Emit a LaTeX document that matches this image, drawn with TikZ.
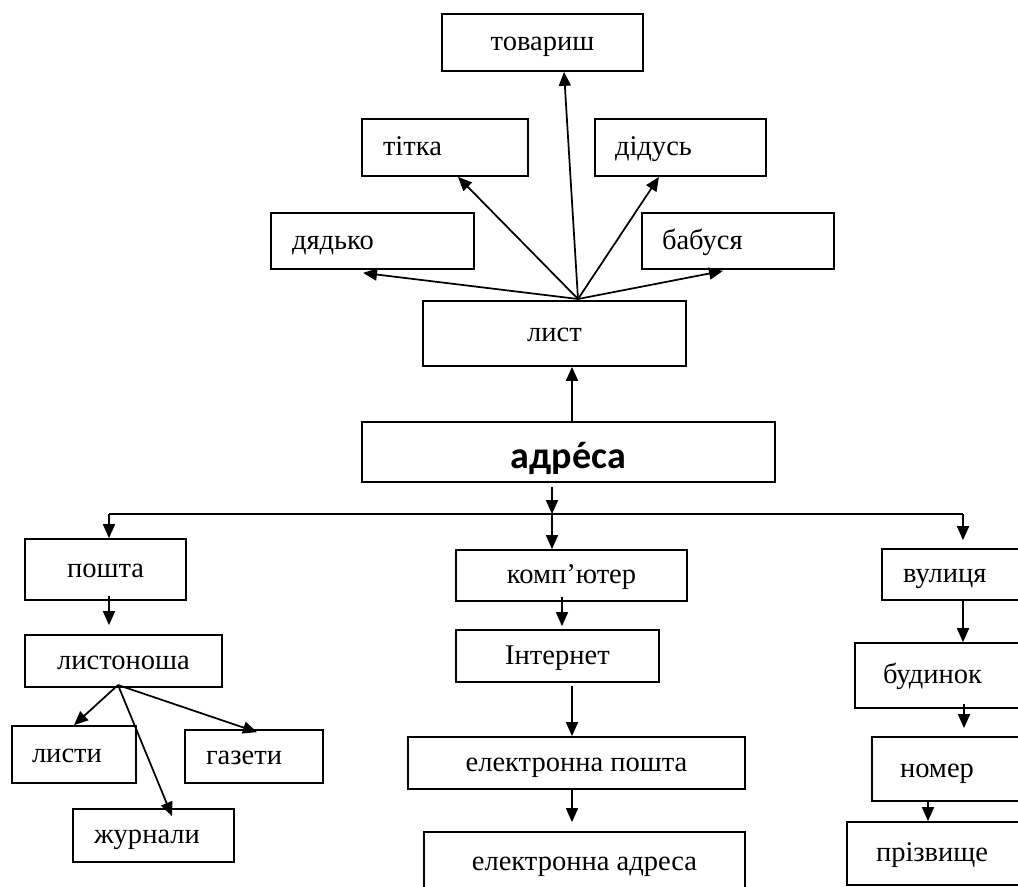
\documentclass[tikz,border=0pt]{standalone}
\usepackage{fontspec}
\setmainfont{Liberation Serif}
\newfontfamily\carl{Carlito}
\usetikzlibrary{arrows.meta}
\newlength\pxu
\setlength\pxu{0.75pt}
\newcommand\acuteon[1]{{\ooalign{#1\cr\hidewidth´\hidewidth\cr}}}
\tikzset{
  box/.style 2 args={draw, line width=1.3pt, rectangle, inner sep=0pt,
    minimum width=#1*\pxu, minimum height=#2*\pxu,
    font=\fontsize{21.4pt}{26pt}\selectfont, text height=12pt, text depth=0pt},
  lbox/.style n args={3}{box={#1}{#2}, text width=(#1-2*#3)*\pxu,
    inner xsep=#3*\pxu, align=left},
  arr/.style={line width=1.3pt, -{Triangle[length=10.5pt, width=9pt]}},
  plain/.style={line width=1.3pt}
}
\begin{document}
\begin{tikzpicture}[x=0.75pt,y=-0.75pt]
\useasboundingbox (0,0) rectangle (1018,886);
\fill[white] (0,0) rectangle (1018,886);
\clip (0,0) rectangle (1018,886);

% upper part
\node[box={201}{57}] (tov) at (542.5,42.5) {товариш};
\node[lbox={166}{57}{21}] (titka) at (445,147.5) {тітка};
\node[lbox={171}{57}{20}] (didus) at (680.5,147.5) {дідусь};
\node[lbox={203}{56}{21}] (dyadko) at (372.5,241) {дядько};
\node[lbox={192}{56}{20}] (babusya) at (738,241) {бабуся};
\node[box={263}{65}] (lyst) at (554.5,333.5) {лист};
\node[box={413}{60}, font=\carl\bfseries\fontsize{28.5pt}{32pt}\selectfont,
      text height=25pt] (adresa) at (568.5,452) {адр\acuteon{е}са};

% left branch
\node[box={161}{61}] (posta) at (105.5,569.5) {пошта};
\node[box={197}{52}] (listo) at (123.5,661) {листоноша};
\node[lbox={124}{57}{20}] (lysty) at (74,754.5) {листи};
\node[lbox={138}{53}{21}] (gazety) at (254,756.5) {газети};
\node[lbox={161}{53}{21}] (zhurn) at (153.5,835.5) {журнали};

% middle branch
\node[box={231}{51}] (komp) at (571.5,575.5) {комп’ютер};
\node[box={203}{52}] (internet) at (557.5,656) {Інтернет};
\node[box={337}{52}] (epost) at (576.5,763) {електронна пошта};
\node[box={321}{60}] (eaddr) at (584.5,862) {електронна адреса};

% right branch
\node[lbox={148}{51}{21}] (vul) at (956,574.5) {вулиця};
\node[lbox={175}{65}{28}] (bud) at (942.5,675.5) {будинок};
\node[lbox={158}{64}{28}] (nomer) at (951,769) {номер};
\node[lbox={183}{63}{29}] (prizv) at (938.5,853.5) {прізвище};

% coordinates
\coordinate (fan) at (578,299);
\coordinate (lf) at (118,685);
\coordinate (br) at (552,514);
\coordinate (bl) at (109,514);
\coordinate (bri) at (963,514);

% fan from лист
\draw[arr] (fan) -- ([xshift=21.5*\pxu]tov.south);
\draw[arr] (fan) -- ([xshift=13*\pxu]titka.south);
\draw[arr] (fan) -- ([xshift=-21.5*\pxu]didus.south);
\draw[arr] (fan) -- ([xshift=-9.5*\pxu,yshift=-3*\pxu]dyadko.south);
\draw[arr] (fan) -- ([xshift=-15*\pxu,yshift=-1*\pxu]babusya.south);
\draw[arr] ([xshift=3.5*\pxu]adresa.north) -- ([xshift=17.5*\pxu]lyst.south);

% branch
\draw[arr] ([xshift=-16.5*\pxu,yshift=-4*\pxu]adresa.south) -- (br);
\draw[plain] (bl) -- (bri);
\draw[arr] (bl) -- (bl |- posta.north);
\draw[arr] (br) -- (br |- komp.north);
\draw[arr] (bri) -- ([xshift=7*\pxu,yshift=8*\pxu]vul.north);

% left
\draw[arr] ([xshift=3.5*\pxu,yshift=5*\pxu]posta.south) -- ([xshift=-14.5*\pxu,yshift=9*\pxu]listo.north);
\draw[arr] (lf) -- (lysty.north);
\draw[arr] (lf) -- ([xshift=18.5*\pxu,yshift=-8*\pxu]zhurn.north);
\draw[arr] (lf) -- ([xshift=3*\pxu,yshift=-3*\pxu]gazety.north);

% middle
\draw[arr] ([xshift=-9.5*\pxu,yshift=5*\pxu]komp.south) -- ([xshift=4.5*\pxu,yshift=3*\pxu]internet.north);
\draw[arr] ([xshift=14.5*\pxu,yshift=-3*\pxu]internet.south) -- ([xshift=-4.5*\pxu]epost.north);
\draw[arr] ([xshift=-4.5*\pxu,yshift=2*\pxu]epost.south) -- ([xshift=-12.5*\pxu,yshift=9*\pxu]eaddr.north);

% right
\draw[arr] ([xshift=7*\pxu]vul.south) -- ([xshift=20.5*\pxu]bud.north);
\draw[arr] ([xshift=21.5*\pxu,yshift=5*\pxu]bud.south) -- ([xshift=13*\pxu,yshift=8*\pxu]nomer.north);
\draw[arr] ([xshift=-23*\pxu,yshift=2*\pxu]nomer.south) -- ([xshift=-10.5*\pxu]prizv.north);
\end{tikzpicture}
\end{document}
